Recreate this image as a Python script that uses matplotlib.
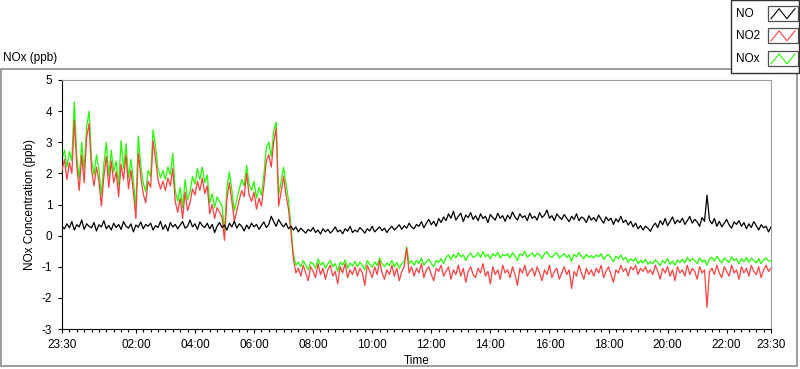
import numpy as np
import pandas as pd
import matplotlib
matplotlib.use("Agg")
import matplotlib.pyplot as plt
import matplotlib.dates as mdates
from matplotlib.patches import Rectangle
from matplotlib.lines import Line2D

# 5-minute readings starting at 23:30, one row per hour (ppb)
NO = [
    0.30, 0.22, 0.38, 0.25, 0.45, 0.18, 0.35, 0.28, 0.50, 0.20, 0.38, 0.30,
    0.25, 0.42, 0.15, 0.35, 0.28, 0.48, 0.22, 0.33, 0.18, 0.40, 0.26, 0.36,
    0.20, 0.45, 0.30, 0.24, 0.38, 0.12, 0.34, 0.27, 0.44, 0.22, 0.36, 0.30,
    0.40, 0.18, 0.32, 0.26, 0.46, 0.20, 0.35, 0.15, 0.42, 0.28, 0.36, 0.22,
    0.34, 0.45, 0.24, 0.30, 0.50, 0.28, 0.38, 0.20, 0.44, 0.32, 0.26, 0.40,
    0.22, 0.36, 0.10, 0.30, 0.42, 0.26, 0.34, 0.18, 0.40, 0.28, 0.46, 0.24,
    0.38, 0.30, 0.15, 0.34, 0.22, 0.40, 0.28, 0.36, 0.20, 0.32, 0.44, 0.26,
    0.36, 0.62, 0.45, 0.30, 0.52, 0.38, 0.28, 0.40, 0.22, 0.30, 0.18, 0.28,
    0.12, 0.24, 0.16, 0.08, 0.20, 0.14, 0.26, 0.10, 0.18, 0.05, 0.22, 0.12,
    0.20, 0.08, 0.16, 0.28, 0.12, 0.18, 0.06, 0.22, 0.14, 0.30, 0.10, 0.18,
    0.12, 0.26, 0.18, 0.08, 0.22, 0.15, 0.30, 0.12, 0.20, 0.28, 0.16, 0.24,
    0.10, 0.22, 0.30, 0.18, 0.26, 0.35, 0.20, 0.32, 0.24, 0.40, 0.28, 0.22,
    0.36, 0.30, 0.45, 0.25, 0.40, 0.52, 0.35, 0.46, 0.30, 0.55, 0.42, 0.60,
    0.48, 0.70, 0.56, 0.78, 0.50, 0.62, 0.72, 0.45, 0.66, 0.58, 0.74, 0.52,
    0.64, 0.48, 0.70, 0.55, 0.62, 0.42, 0.68, 0.58, 0.50, 0.72, 0.56, 0.64,
    0.46, 0.66, 0.54, 0.76, 0.60, 0.50, 0.70, 0.58, 0.64, 0.48, 0.72, 0.56,
    0.62, 0.50, 0.74, 0.58, 0.66, 0.82, 0.56, 0.64, 0.48, 0.70, 0.60, 0.52,
    0.68, 0.56, 0.45, 0.62, 0.52, 0.70, 0.48, 0.60, 0.55, 0.42, 0.64, 0.50,
    0.58, 0.46, 0.66, 0.52, 0.40, 0.60, 0.48, 0.56, 0.36, 0.54, 0.44, 0.62,
    0.42, 0.50, 0.34, 0.46, 0.28, 0.40, 0.22, 0.32, 0.18, 0.30, 0.24, 0.14,
    0.30, 0.40, 0.26, 0.48, 0.35, 0.55, 0.32, 0.46, 0.60, 0.38, 0.50, 0.42,
    0.56, 0.36, 0.48, 0.62, 0.40, 0.52, 0.44, 0.30, 0.58, 0.46, 1.30, 0.50,
    0.38, 0.55, 0.30, 0.46, 0.28, 0.40, 0.52, 0.34, 0.24, 0.44, 0.36, 0.48,
    0.30, 0.42, 0.22, 0.38, 0.26, 0.45, 0.32, 0.18, 0.35, 0.25, 0.30, 0.12,
    0.28,
]

NO2 = [
    2.10, 2.45, 1.80, 2.35, 2.00, 3.70, 2.25, 1.45, 2.60, 1.70, 3.15, 3.60,
    2.10, 1.60, 2.20, 1.75, 0.95, 1.90, 2.55, 1.55, 2.40, 1.70, 2.05, 1.25,
    2.30, 1.80, 2.60, 1.50, 2.10, 1.40, 0.55, 2.65, 1.90, 1.35, 1.05, 1.75,
    1.55, 3.05, 2.45, 1.80, 1.50, 1.75, 1.45, 1.85, 1.60, 2.15, 1.10, 0.75,
    1.20, 0.55, 1.40, 0.80, 1.05, 1.50, 1.30, 1.75, 1.45, 1.85, 1.35, 1.60,
    0.70, 1.00, 0.55, 0.90, 0.75, 0.60, -0.15, 1.20, 1.70, 1.10, 0.45, 0.80,
    1.15, 1.45, 1.25, 2.00, 1.30, 1.10, 1.40, 0.85, 1.20, 0.95, 1.60, 2.40,
    2.60, 2.20, 3.00, 3.45, 0.95, 1.40, 1.90, 1.30, 0.85, 0.10, -0.75, -1.20,
    -1.05, -1.30, -0.95, -1.20, -1.45, -1.00, -1.15, -1.35, -0.90, -1.25, -1.05, -1.40,
    -1.10, -0.95, -1.30, -1.15, -1.55, -1.00, -1.20, -0.90, -1.35, -1.10, -1.25, -1.00,
    -1.30, -1.05, -1.20, -1.60, -0.95, -1.15, -1.35, -1.00, -1.25, -0.80, -1.20, -1.40,
    -1.10, -1.25, -0.95, -1.30, -1.05, -1.45, -1.15, -1.00, -0.40, -1.20, -1.00, -1.30,
    -1.05, -1.20, -0.90, -1.35, -1.10, -1.00, -1.25, -1.45, -1.05, -1.15, -0.95, -1.30,
    -1.15, -1.00, -1.40, -1.10, -1.25, -0.95, -1.30, -1.05, -1.50, -1.15, -1.00, -1.25,
    -1.35, -1.05, -1.20, -0.90, -1.30, -1.15, -1.55, -1.00, -1.25, -1.10, -1.40, -0.95,
    -1.20, -1.10, -1.35, -1.00, -1.25, -1.60, -1.05, -1.20, -0.95, -1.30, -1.15, -1.05,
    -1.30, -1.00, -1.20, -1.45, -1.10, -1.25, -0.95, -1.35, -1.15, -1.05, -1.40, -1.20,
    -1.00, -1.25, -1.10, -1.70, -1.15, -1.30, -0.95, -1.20, -1.40, -1.05, -1.25, -1.10,
    -1.30, -1.05, -1.20, -0.95, -1.35, -1.15, -1.00, -1.25, -1.50, -1.10, -1.20, -0.95,
    -1.15, -1.05, -1.30, -1.00, -1.10, -0.95, -1.25, -1.05, -1.15, -1.00, -1.20, -1.10,
    -1.25, -0.95, -1.15, -1.40, -1.05, -1.20, -1.00, -1.30, -1.10, -1.45, -1.00, -1.20,
    -1.10, -1.30, -0.95, -1.25, -1.05, -1.15, -1.40, -1.00, -1.20, -1.10, -2.30, -1.15,
    -1.05, -1.25, -0.95, -1.20, -1.35, -1.00, -1.15, -1.30, -0.95, -1.20, -1.10, -1.40,
    -1.00, -1.20, -1.05, -1.30, -0.95, -1.15, -1.25, -1.00, -1.35, -1.10, -0.95, -1.15,
    -1.05,
]

NOX = [
    2.45, 2.75, 2.20, 2.70, 2.40, 4.30, 2.55, 1.80, 3.00, 2.10, 3.50, 4.00,
    2.45, 1.95, 2.60, 2.10, 1.30, 2.30, 3.00, 1.90, 2.75, 2.05, 2.40, 1.60,
    3.05, 2.15, 2.95, 1.85, 2.45, 1.75, 0.90, 3.20, 2.25, 1.70, 1.40, 2.10,
    1.90, 3.40, 2.85, 2.15, 1.85, 2.10, 1.80, 2.20, 1.95, 2.65, 1.45, 1.10,
    1.55, 0.90, 1.80, 1.15, 1.40, 1.90, 1.65, 2.15, 1.80, 2.20, 1.70, 1.95,
    1.05, 1.35, 0.90, 1.25, 1.10, 0.95, 0.15, 1.55, 2.05, 1.45, 0.80, 1.15,
    1.50, 1.80, 1.60, 2.25, 1.65, 1.45, 1.75, 1.20, 1.55, 1.30, 1.95, 2.85,
    3.00, 2.55, 3.35, 3.65, 1.30, 1.75, 2.20, 1.65, 1.15, 0.30, -0.60, -0.95,
    -0.85, -1.00, -0.80, -0.95, -1.10, -0.85, -0.90, -1.05, -0.75, -0.95, -0.85, -1.05,
    -0.90, -0.80, -1.00, -0.90, -1.15, -0.85, -0.95, -0.78, -1.05, -0.88, -0.98, -0.82,
    -1.00, -0.85, -0.95, -1.10, -0.80, -0.92, -1.02, -0.84, -0.96, -0.72, -0.90, -1.00,
    -0.88, -0.96, -0.80, -1.00, -0.86, -1.05, -0.90, -0.82, -0.36, -0.90, -0.80, -0.95,
    -0.80, -0.90, -0.72, -0.95, -0.84, -0.76, -0.90, -1.00, -0.80, -0.86, -0.74, -0.90,
    -0.70, -0.62, -0.78, -0.60, -0.72, -0.55, -0.68, -0.62, -0.80, -0.64, -0.56, -0.70,
    -0.66, -0.55, -0.70, -0.52, -0.68, -0.60, -0.75, -0.58, -0.66, -0.54, -0.72, -0.60,
    -0.65, -0.58, -0.72, -0.55, -0.66, -0.80, -0.58, -0.64, -0.50, -0.70, -0.62, -0.56,
    -0.68, -0.56, -0.62, -0.74, -0.58, -0.52, -0.66, -0.70, -0.60, -0.55, -0.72, -0.64,
    -0.58, -0.70, -0.62, -0.82, -0.60, -0.68, -0.54, -0.66, -0.74, -0.60, -0.70, -0.64,
    -0.72, -0.62, -0.68, -0.58, -0.76, -0.66, -0.60, -0.72, -0.84, -0.66, -0.74, -0.62,
    -0.78, -0.70, -0.86, -0.74, -0.82, -0.72, -0.90, -0.80, -0.88, -0.76, -0.92, -0.84,
    -0.90, -0.78, -0.86, -0.96, -0.80, -0.88, -0.74, -0.92, -0.82, -0.95, -0.78, -0.86,
    -0.76, -0.88, -0.70, -0.82, -0.74, -0.80, -0.90, -0.72, -0.84, -0.78, -0.95, -0.74,
    -0.70, -0.82, -0.66, -0.78, -0.88, -0.72, -0.80, -0.86, -0.68, -0.80, -0.74, -0.90,
    -0.74, -0.84, -0.70, -0.86, -0.72, -0.80, -0.88, -0.74, -0.90, -0.78, -0.72, -0.82,
    -0.80,
]

SERIES = ["NO", "NO2", "NOx"]
COLORS = ["#000000", "#ff4040", "#22ff00"]
YTICKS = [-3, -2, -1, 0, 1, 2, 3, 4, 5]

plt.rcParams['font.family'] = ['Liberation Sans', 'DejaVu Sans']
plt.rcParams['font.size'] = 8.5
plt.rcParams['axes.unicode_minus'] = False

W, H = 800, 369

# pixel -> figure fraction helpers
def fx(x):
    return x / W

def fy(y):
    return 1 - y / H

fig = plt.figure(figsize=(W / 100, H / 100), dpi=100)
ax = fig.add_axes([fx(62), fy(329), fx(771) - fx(62), fy(80) - fy(329)])

t0 = pd.Timestamp("2015-03-01 23:30")
t1 = t0 + pd.Timedelta(hours=24)
times = pd.date_range(t0, periods=len(NO), freq="5min")

ax.plot(times, NOX, color=COLORS[2], lw=0.9, zorder=2)
ax.plot(times, NO2, color=COLORS[1], lw=0.9, zorder=3)
ax.plot(times, NO, color=COLORS[0], lw=0.9, zorder=4)

ax.set_xlim(t0, t1)
ax.set_ylim(-3, 5)
ax.set_yticks(YTICKS)
ax.set_yticklabels([str(v) for v in YTICKS])

major = [t0] + [pd.Timestamp("2015-03-02 02:00") + pd.Timedelta(hours=2 * k) for k in range(11)] + [t1]
ax.set_xticks([mdates.date2num(m) for m in major])
ax.xaxis.set_major_formatter(mdates.DateFormatter("%H:%M"))
ax.xaxis.set_minor_locator(mdates.MinuteLocator(byminute=[0, 15, 30, 45]))

ax.tick_params(which='major', direction='out', length=3, width=0.8, pad=4, colors='black')
ax.tick_params(which='minor', direction='out', length=2, width=0.8)
ax.tick_params(axis='y', which='minor', left=False)

for side in ['top', 'right']:
    ax.spines[side].set_color('#a0a0a0')
    ax.spines[side].set_linewidth(0.8)
for side in ['left', 'bottom']:
    ax.spines[side].set_color('black')
    ax.spines[side].set_linewidth(0.8)

ax.set_xlabel("Time")
ax.xaxis.set_label_coords(0.5, -0.104)
ax.set_ylabel("NOx Concentration (ppb)")
ax.yaxis.set_label_coords(-0.037, 0.5)

# outer panel frame and its caption
fig.add_artist(Rectangle((fx(0.5), fy(366)), fx(797) - fx(0.5), fy(69) - fy(366),
                         transform=fig.transFigure, fill=False, ec='#8c8c8c', lw=1.2))
fig.text(fx(3), fy(58), "NOx (ppb)", ha='left', va='center')

# legend box, text on the left, swatch on the right
fig.add_artist(Rectangle((fx(731), fy(73)), fx(799) - fx(731), fy(0) - fy(73),
                         transform=fig.transFigure, fc='white', ec='#303030', lw=1, zorder=5))
for name, col, yc in zip(SERIES, COLORS, [13.7, 35.8, 58.9]):
    fig.text(fx(736), fy(yc), name, ha='left', va='center', zorder=6)
    fig.add_artist(Rectangle((fx(768), fy(yc + 7.5)), fx(30), 15 / H,
                             transform=fig.transFigure, fc='white', ec='#505050', lw=0.9, zorder=6))
    xs = [fx(768 + 30 * f) for f in [0.1, 0.37, 0.63, 0.9]]
    ys = [fy(yc + d) for d in [5, -5, 5, -5]]
    fig.add_artist(Line2D(xs, ys, color=col, lw=0.8, transform=fig.transFigure, zorder=7))

fig.savefig("out.png", dpi=100)
